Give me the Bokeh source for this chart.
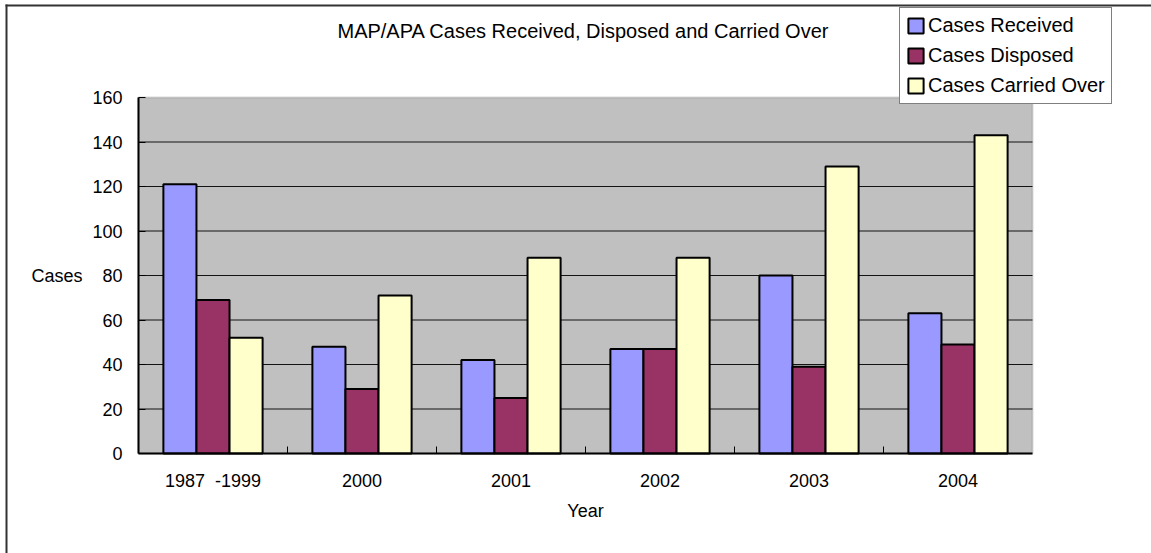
from bokeh.plotting import figure
from bokeh.models import (Range1d, ColumnDataSource, Legend, LegendItem,
                          BoxAnnotation, FixedTicker, Label)
from bokeh.embed import file_html
from bokeh.resources import INLINE

# ---------------- data ----------------
years = ["1987\u00a0 -1999", "2000", "2001", "2002", "2003", "2004"]
received = [121, 48, 42, 47, 80, 63]
disposed = [69, 29, 25, 47, 39, 49]
carried = [52, 71, 88, 88, 129, 143]
series_names = ["Cases Received", "Cases Disposed", "Cases Carried Over"]
series_keys = ["received", "disposed", "carried"]
colors = ["#9999FF", "#993366", "#FFFFCC"]
y_ticks = [0, 20, 40, 60, 80, 100, 120, 140, 160]
title_text = "MAP/APA Cases Received, Disposed and Carried Over"

# ---------------- layout (pixels) ----------------
W, H = 1151, 553
PX_L, PX_R, PX_T, PX_B = 138, 1032, 97, 453   # plot area edges on the page
FONT = "Liberation Sans"

n = len(years)
xpu = (PX_R - PX_L) / n
ypu = (PX_B - PX_T) / (y_ticks[-1] - y_ticks[0])
x_range = Range1d(-PX_L / xpu, (W - PX_L) / xpu)
y_range = Range1d(-(H - PX_B) / ypu, PX_B / ypu)

xs = [i + 0.5 for i in range(n)]
src = ColumnDataSource(dict(x=xs, received=received, disposed=disposed, carried=carried))

p = figure(width=W, height=H, x_range=x_range, y_range=y_range,
           output_backend="svg", toolbar_location=None, tools="",
           min_border=0, min_border_left=0, min_border_right=0,
           min_border_top=0, min_border_bottom=0)
p.outline_line_color = None
p.background_fill_color = "white"
p.border_fill_color = "white"
p.xgrid.visible = False
p.ygrid.visible = False

# plot area (gray wall)
p.add_layout(BoxAnnotation(left=0, right=n, bottom=y_ticks[0], top=y_ticks[-1],
                           fill_color="#C0C0C0", fill_alpha=1,
                           line_color="#808080", line_width=2, level="underlay"))

# horizontal gridlines
grid_vals = y_ticks[1:-1]
p.segment(x0=[0] * len(grid_vals), x1=[n] * len(grid_vals), y0=grid_vals, y1=grid_vals,
          line_color="black", line_width=1, line_alpha=0.9)

# bars
bw = 0.222
offsets = [-bw, 0, bw]
renderers = []
for key, off, col in zip(series_keys, offsets, colors):
    src_x = [x + off for x in xs]
    r = p.vbar(x=src_x, top=src.data[key], width=bw, bottom=0,
               fill_color=col, line_color="black", line_width=2)
    renderers.append(r)

# y axis
yax = p.yaxis[0]
yax.fixed_location = 0
yax.bounds = (y_ticks[0], y_ticks[-1])
yax.ticker = FixedTicker(ticks=y_ticks)
yax.major_tick_in = 7
yax.major_tick_out = 0
yax.minor_tick_line_color = None
yax.major_tick_line_color = "black"
yax.axis_line_color = "black"
yax.axis_line_width = 2
yax.major_label_standoff = 16
yax.major_label_text_font = FONT
yax.major_label_text_font_size = "18px"
yax.major_label_text_color = "black"
yax.axis_label = "Cases"
yax.axis_label_orientation = "horizontal"
yax.axis_label_standoff = 7
yax.axis_label_text_font = FONT
yax.axis_label_text_font_size = "18px"
yax.axis_label_text_font_style = "normal"
yax.axis_label_text_color = "black"

# x axis
xax = p.xaxis[0]
xax.fixed_location = 0
xax.bounds = (0, n)
xax.ticker = FixedTicker(ticks=xs, minor_ticks=list(range(1, n)))
xax.major_label_overrides = {x: lab for x, lab in zip(xs, years)}
xax.major_tick_line_color = None
xax.minor_tick_line_color = "black"
xax.minor_tick_in = 7
xax.minor_tick_out = 0
xax.axis_line_color = "black"
xax.axis_line_width = 2
xax.major_label_standoff = 11
xax.major_label_text_font = FONT
xax.major_label_text_font_size = "18px"
xax.major_label_text_color = "black"
xax.axis_label = "Year"
xax.axis_label_standoff = 7
xax.axis_label_text_font = FONT
xax.axis_label_text_font_size = "18px"
xax.axis_label_text_font_style = "normal"
xax.axis_label_text_color = "black"

# title
p.add_layout(Label(x=583, y=H - 30, x_units="screen", y_units="screen", text=title_text,
                   text_align="center", text_baseline="middle",
                   text_font=FONT, text_font_size="20px", text_color="black"))

# legend
legend = Legend(items=[LegendItem(label=nm, renderers=[r]) for nm, r in zip(series_names, renderers)],
                location=(899, H - 104))
legend.border_line_color = "black"
legend.border_line_width = 1
legend.background_fill_color = "white"
legend.background_fill_alpha = 1
legend.label_text_font = FONT
legend.label_text_font_size = "20px"
legend.label_text_color = "black"
legend.glyph_width = 19
legend.glyph_height = 19
legend.label_standoff = 3
legend.padding = 6
legend.spacing = 7
legend.label_height = 20
legend.margin = 0
p.add_layout(legend, "center")

# outer chart frame (top and left edges)
p.add_layout(BoxAnnotation(left=5, right=W, bottom=H - 6, top=H - 4,
                           left_units="screen", right_units="screen",
                           top_units="screen", bottom_units="screen",
                           fill_color="#333333", fill_alpha=1, line_color=None))
p.add_layout(BoxAnnotation(left=5, right=7, bottom=0, top=H - 4,
                           left_units="screen", right_units="screen",
                           top_units="screen", bottom_units="screen",
                           fill_color="#333333", fill_alpha=1, line_color=None))

open("out.html", "w").write(file_html(p, INLINE))
